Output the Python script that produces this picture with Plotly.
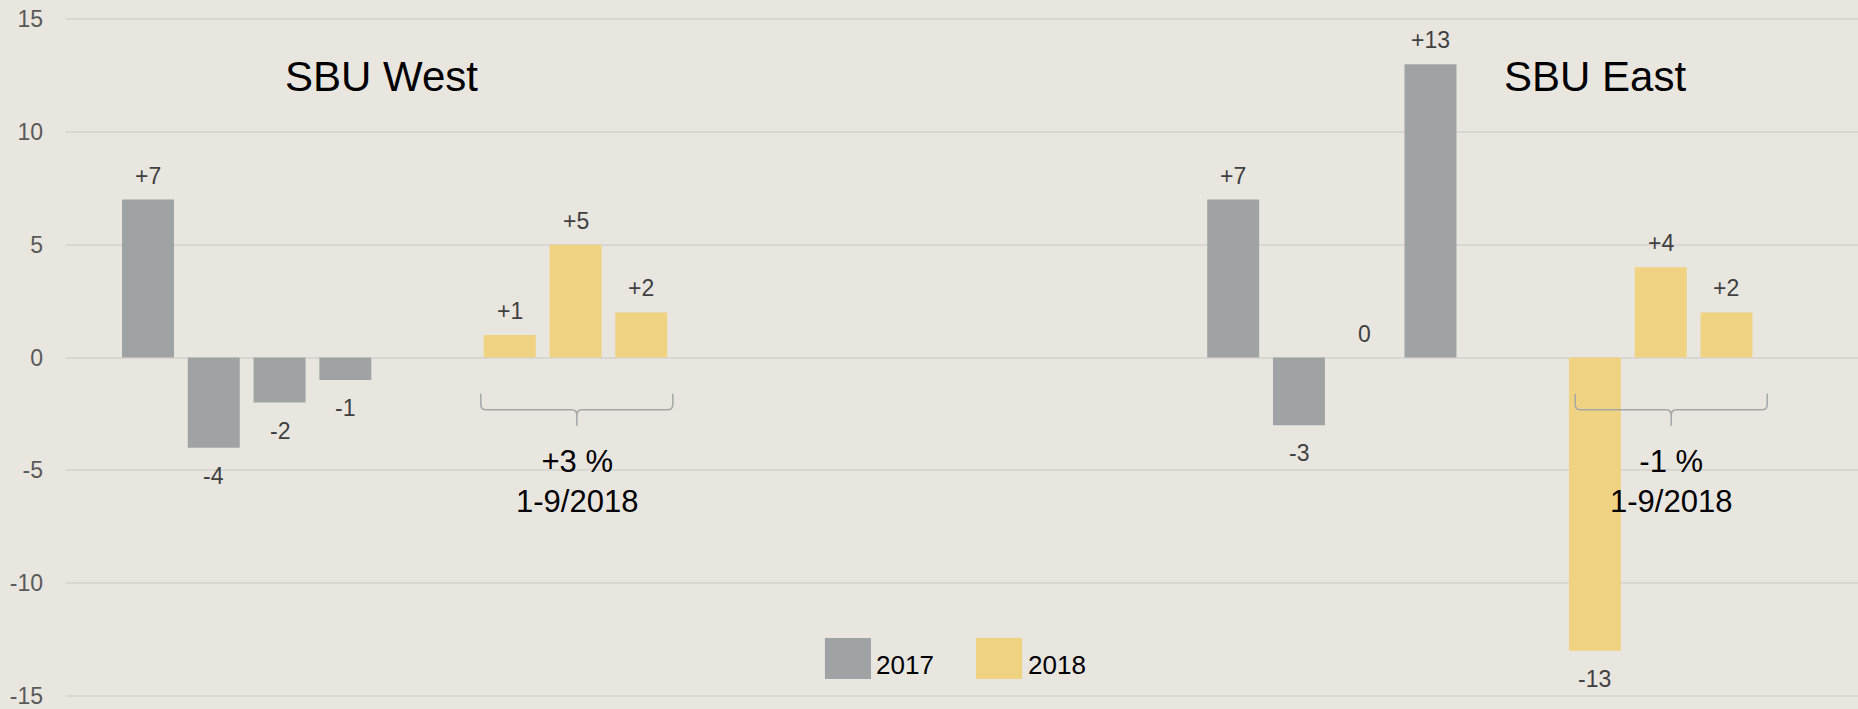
import plotly.graph_objects as go

# ---------------- data ----------------
west_2017 = [7, -4, -2, -1]
west_2018 = [1, 5, 2]
east_2017 = [7, -3, 0, 13]
east_2018 = [-13, 4, 2]
series_names = ["2017", "2018"]
group_titles = ["SBU West", "SBU East"]
group_notes = ["+3 %<br>1-9/2018", "-1 %<br>1-9/2018"]
y_ticks = [-15, -10, -5, 0, 5, 10, 15]

# ---------------- layout constants (slot positions on the x axis) ----------------
west_2017_slots = [0, 1, 2, 3]
west_2018_slots = [5.5, 6.5, 7.5]
east_2017_slots = [16.5, 17.5, 18.5, 19.5]
east_2018_slots = [22, 23, 24]
title_slots = [3.55, 22.0]
bracket_spans = [(5.06, 7.98), (21.70, 24.62)]

C17 = "#A0A3A4"
C18 = "#F0D283"
BG = "#E9E6E0"
GRID = "#D9D7D3"
FONT = "Liberation Sans, Arial, sans-serif"
BAR_W = 0.79

fig = go.Figure()

def add_bars(xs, ys, color):
    fig.add_trace(go.Bar(
        x=xs, y=ys, width=BAR_W, marker=dict(color=color, line=dict(width=0)),
        showlegend=False, hoverinfo="x+y"))
    for x, v in zip(xs, ys):
        txt = f"+{v}" if v > 0 else str(v)
        fig.add_annotation(x=x, y=v, text=txt, showarrow=False, xref="x", yref="y",
                           yanchor="middle", yshift=(24 if v >= 0 else -28),
                           font=dict(family=FONT, size=23, color="#404040"))

add_bars(west_2017_slots, west_2017, C17)
add_bars(west_2018_slots, west_2018, C18)
add_bars(east_2017_slots, east_2017, C17)
add_bars(east_2018_slots, east_2018, C18)

# group titles
for t, xs in zip(group_titles, title_slots):
    fig.add_annotation(x=xs, y=12.44, text=t, showarrow=False, xref="x", yref="y",
                       font=dict(family=FONT, size=42, color="#000000"))

# brackets and notes
y_top, y_h, y_tip = -1.61, -2.32, -3.03
for (x0, x1), note in zip(bracket_spans, group_notes):
    xc = (x0 + x1) / 2
    dx = 0.08
    dy = 0.25
    path = (f"M {x0},{y_top} L {x0},{y_h + dy} Q {x0},{y_h} {x0 + dx},{y_h} "
            f"L {xc - dx},{y_h} Q {xc},{y_h} {xc},{y_h - dy} L {xc},{y_tip} "
            f"M {xc},{y_h - dy} Q {xc},{y_h} {xc + dx},{y_h} "
            f"L {x1 - dx},{y_h} Q {x1},{y_h} {x1},{y_h + dy} L {x1},{y_top}")
    fig.add_shape(type="path", path=path, xref="x", yref="y",
                  line=dict(color="#A6A6A6", width=1.5))
    fig.add_annotation(x=xc, y=-5.49, text=note, showarrow=False, xref="x", yref="y",
                       font=dict(family=FONT, size=31, color="#000000"))

# custom legend
legend_items = [(series_names[0], C17, 0.4235, 0.4492, 0.4509),
                (series_names[1], C18, 0.5078, 0.5335, 0.5357)]
for name, col, a, b, tx in legend_items:
    fig.add_shape(type="rect", xref="paper", yref="paper", x0=a, x1=b, y0=0.0265, y1=0.0868,
                  fillcolor=col, line=dict(width=0))
    fig.add_annotation(x=tx, y=0.047, xref="paper", yref="paper", text=name, showarrow=False,
                       xanchor="left", yanchor="middle",
                       font=dict(family=FONT, size=26, color="#000000"))

fig.update_layout(
    width=1858, height=709,
    margin=dict(l=66, r=0, t=18, b=9),
    paper_bgcolor=BG, plot_bgcolor=BG,
    barmode="overlay",
    showlegend=False,
    xaxis=dict(range=[-1.247, 26.0], showgrid=False, zeroline=False, showticklabels=False,
               ticks=""),
    yaxis=dict(range=[-15.05, 15.05], tickvals=y_ticks, ticktext=[str(v) for v in y_ticks],
               showgrid=True, gridcolor=GRID, gridwidth=2, zeroline=False,
               ticks="", ticklabelstandoff=22, ticklabeloverflow="allow",
               tickfont=dict(family=FONT, size=23, color="#595959")),
)

fig.write_html("out.html", config={"displayModeBar": False},
               post_script="document.body.style.margin='0';document.body.style.background='" + BG + "';")
